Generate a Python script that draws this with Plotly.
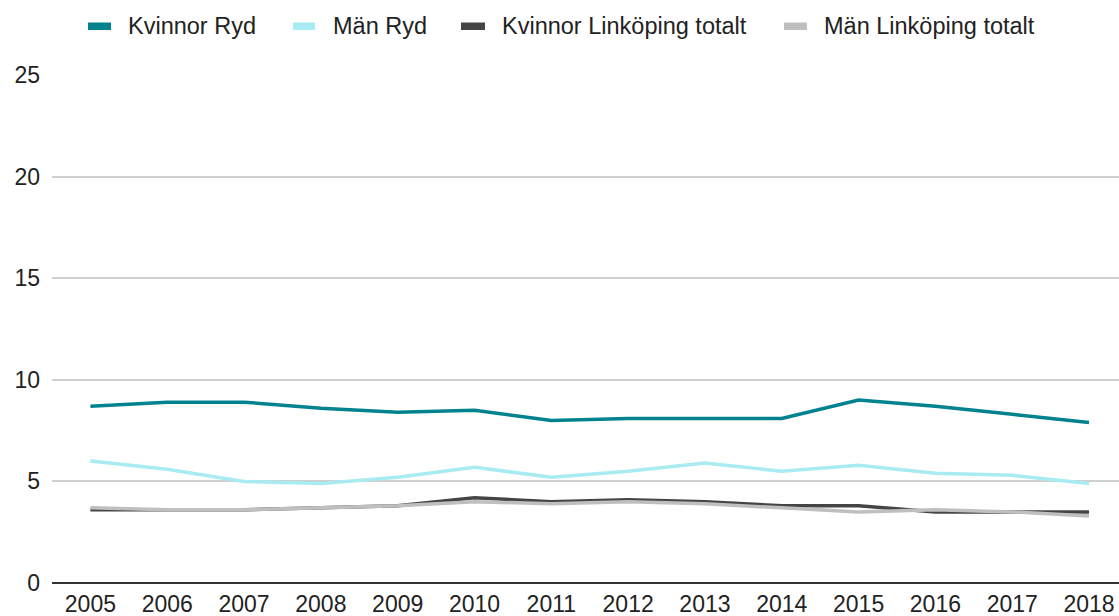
import plotly.graph_objects as go

years = ["2005", "2006", "2007", "2008", "2009", "2010", "2011", "2012", "2013", "2014", "2015", "2016", "2017", "2018"]
kvinnor_ryd = [8.7, 8.9, 8.9, 8.6, 8.4, 8.5, 8.0, 8.1, 8.1, 8.1, 9.0, 8.7, 8.3, 7.9]
man_ryd = [6.0, 5.6, 5.0, 4.9, 5.2, 5.7, 5.2, 5.5, 5.9, 5.5, 5.8, 5.4, 5.3, 4.9]
kvinnor_lkpg = [3.6, 3.6, 3.6, 3.7, 3.8, 4.2, 4.0, 4.1, 4.0, 3.8, 3.8, 3.5, 3.5, 3.5]
man_lkpg = [3.7, 3.6, 3.6, 3.7, 3.8, 4.0, 3.9, 4.0, 3.9, 3.7, 3.5, 3.6, 3.5, 3.3]

names = ["Kvinnor Ryd", "Män Ryd", "Kvinnor Linköping totalt", "Män Linköping totalt"]
values = [kvinnor_ryd, man_ryd, kvinnor_lkpg, man_lkpg]
colors = ["#00838f", "#a8ebf1", "#454545", "#bfbfbf"]

W, H = 1119, 616
ML, MR, MT, MB = 52, 0, 75, 33
PW, PH = W - ML - MR, H - MT - MB
FONT = "Liberation Sans, Arial, sans-serif"
TXT = "#222222"

fig = go.Figure()
for name, vals, color in zip(names, values, colors):
    fig.add_trace(go.Scatter(x=years, y=vals, mode="lines", name=name,
                             line=dict(color=color, width=3.5), showlegend=False))

# manual legend (pixel positions converted to paper coordinates)
legend_rects = [(88, 111), (293, 315), (461, 485), (784, 807)]
legend_text_x = [128, 333, 502, 824]
def px(x):
    return (x - ML) / PW
def py(y):
    return (H - MB - y) / PH

shapes = []
annotations = []
for (x0, x1), tx, name, color in zip(legend_rects, legend_text_x, names, colors):
    shapes.append(dict(type="rect", xref="paper", yref="paper",
                       x0=px(x0), x1=px(x1), y0=py(30), y1=py(22.5),
                       fillcolor=color, line=dict(width=0)))
    annotations.append(dict(xref="paper", yref="paper", x=px(tx - 2), y=py(26),
                            xanchor="left", yanchor="middle", text=name, showarrow=False,
                            font=dict(family=FONT, size=23.5, color=TXT)))

fig.update_layout(
    width=W, height=H,
    margin=dict(l=ML, r=MR, t=MT, b=MB, autoexpand=False),
    plot_bgcolor="white", paper_bgcolor="white",
    font=dict(family=FONT, size=23, color=TXT),
    showlegend=False,
    shapes=shapes, annotations=annotations,
    xaxis=dict(type="category", range=[-0.5, 13.39], showgrid=False, automargin=False,
               showline=False, ticks="", tickfont=dict(size=23, color=TXT),
               ticklabelstandoff=5),
    yaxis=dict(range=[0, 25], tickvals=[0, 5, 10, 15, 20, 25], showgrid=True, automargin=False,
               gridcolor="#cfcfcf", gridwidth=1.5, zeroline=True, zerolinecolor="#333333",
               zerolinewidth=2, ticks="", ticklabelstandoff=11,
               tickfont=dict(size=23, color=TXT)),
)
fig.write_html("out.html", config={"displayModeBar": False},
               post_script="document.body.style.margin='0';document.body.style.overflow='hidden';")
